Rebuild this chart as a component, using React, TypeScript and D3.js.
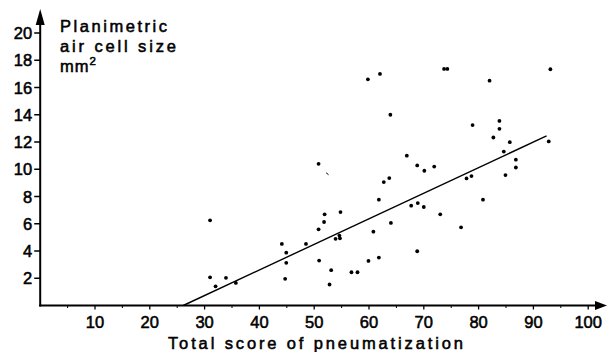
import React from "react";
import * as d3 from "d3";

// Total score of pneumatization (x) and planimetric air cell size in mm² (y)
const scores = [
  31.0, 31.0, 32.0, 33.9, 35.7, 44.1, 44.9, 44.9, 44.7, 48.5,
  50.8, 50.8, 51.8, 51.9, 54.8, 53.9, 54.7, 54.6, 50.9, 53.1,
  52.8, 56.8, 57.9, 59.9, 61.8, 60.8, 61.8, 64.0, 62.7, 63.7,
  68.8, 70.1, 67.7, 68.9, 70.0, 68.8, 59.8, 62.0, 63.9, 66.9,
  73.7, 74.3, 93.1, 82.0, 83.8, 83.8, 78.9, 82.7, 85.7, 92.8,
  84.6, 86.8, 86.8, 71.9, 77.8, 78.7, 84.9, 80.8, 73.0, 76.8,
];
const sizes = [
  6.25, 2.07, 1.41, 2.03, 1.66, 4.52, 3.88, 3.13, 1.96, 4.52,
  10.4, 5.59, 6.13, 6.69, 6.86, 4.89, 4.93, 5.13, 3.3, 2.59,
  1.54, 2.44, 2.44, 3.27, 3.52, 5.42, 7.77, 6.06, 9.06, 9.35,
  10.28, 9.89, 7.33, 7.52, 7.23, 3.98, 16.6, 17.0, 14.0, 11.0,
  17.36, 17.36, 17.34, 16.5, 13.55, 12.97, 13.24, 12.33, 11.99, 12.04,
  11.3, 10.7, 10.13, 10.2, 9.33, 9.5, 9.57, 7.77, 6.69, 5.74,
];
// faint stray mark in the print
const strayX = [52.4];
const strayY = [9.67];

// regression line endpoints
const fitX = [26.1, 92.4];
const fitY = [0, 12.45];

const xTickLabels = [10, 20, 30, 40, 50, 60, 70, 80, 90, 100];
const xMinorTicks = [5, 15, 25, 35, 45, 55, 65, 75, 85, 95];
const yTickLabels = [2, 4, 6, 8, 10, 12, 14, 16, 18, 20];
const yTitleLines = ["Planimetric", "air cell size", "mm"];
const xTitle = "Total score of pneumatization";

const W = 608;
const H = 352;
const FONT = "'Liberation Sans', Arial, sans-serif";
const textStyle = {
  fontFamily: FONT,
  fontSize: 16.5,
  fill: "#000",
  stroke: "#000",
  strokeWidth: 0.55,
} as const;

export default function App() {
  const x = d3.scaleLinear().domain([0, 100]).range([40.2, 588.2]);
  const y = d3.scaleLinear().domain([0, 20]).range([305.5, 33]);
  const x0 = x(0);
  const y0 = y(0);
  const line = d3
    .line<number>()
    .x((_, i) => x(fitX[i]))
    .y((_, i) => y(fitY[i]));

  return (
    <div style={{ position: "absolute", left: 0, top: 0 }}>
      <svg width={W} height={H} style={{ display: "block", background: "#fff" }}>
        {/* Y axis */}
        <line x1={x0} y1={y0 + 1} x2={x0} y2={20} stroke="#000" strokeWidth={2} />
        <path d={`M${x0},9 L${x0 - 4.5},25 L${x0 + 4.5},25 Z`} fill="#000" />
        {yTickLabels.map((v) => (
          <g key={"y" + v}>
            <line x1={x0 - 6} x2={x0} y1={y(v)} y2={y(v)} stroke="#000" strokeWidth={1.5} />
            <text x={x0 - 8} y={y(v) + 6} textAnchor="end" style={textStyle}>
              {v}
            </text>
          </g>
        ))}
        {/* X axis */}
        <line x1={x0 - 1} y1={y0} x2={598} y2={y0} stroke="#000" strokeWidth={2} />
        <path d={`M607,${y0} L595,${y0 - 4.5} L595,${y0 + 4.5} Z`} fill="#000" />
        {xTickLabels.map((v) => (
          <g key={"x" + v}>
            <line x1={x(v)} x2={x(v)} y1={y0} y2={y0 + 4} stroke="#000" strokeWidth={1.3} />
            <text x={x(v)} y={328} textAnchor="middle" style={textStyle}>
              {v}
            </text>
          </g>
        ))}
        {xMinorTicks.map((v) => (
          <line key={"m" + v} x1={x(v)} x2={x(v)} y1={y0} y2={y0 + 2.5} stroke="#000" strokeWidth={1} />
        ))}
        {/* Axis titles */}
        <text x={168} y={349} textLength={295} lengthAdjust="spacing" style={textStyle}>
          {xTitle}
        </text>
        <text x={60} y={32} textLength={107} lengthAdjust="spacing" style={textStyle}>
          {yTitleLines[0]}
        </text>
        <text x={60} y={52} textLength={116} lengthAdjust="spacing" style={textStyle}>
          {yTitleLines[1]}
        </text>
        <text x={60} y={72} letterSpacing={1} style={textStyle}>
          {yTitleLines[2]}
          <tspan fontSize={11.5} dy={-7}>2</tspan>
        </text>
        {/* Regression line */}
        <path d={line(fitX) || ""} fill="none" stroke="#000" strokeWidth={1.4} />
        {/* Points */}
        {scores.map((s, i) => (
          <circle key={"p" + i} cx={x(s)} cy={y(sizes[i])} r={1.9} fill="#000" />
        ))}
        {strayX.map((s, i) => (
          <line
            key={"s" + i}
            x1={x(s) - 1.2}
            y1={y(strayY[i]) - 1}
            x2={x(s) + 1.2}
            y2={y(strayY[i]) + 1}
            stroke="#000"
            strokeWidth={1}
          />
        ))}
      </svg>
    </div>
  );
}
